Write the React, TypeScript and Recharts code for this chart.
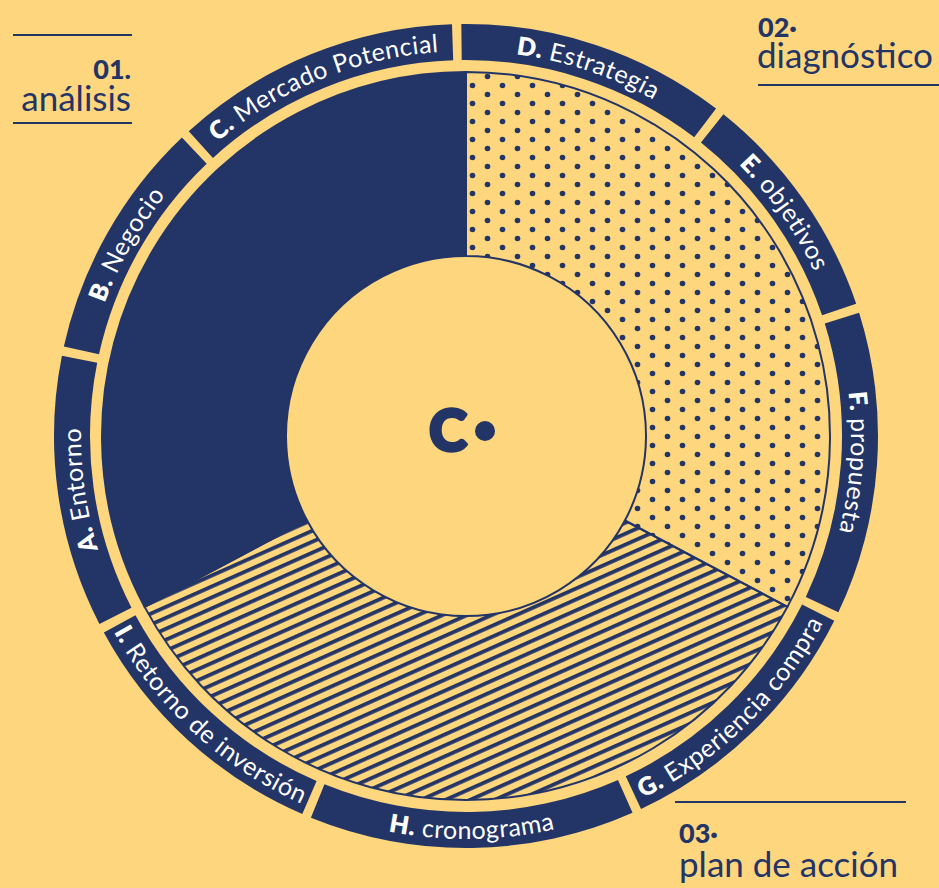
import React from 'react';
import { PieChart, Pie, Cell, Label } from 'recharts';

// colores de la lámina
const NAVY = '#233466';
const BG = '#FED67D';

// anillo exterior: letras, nombres y ángulo que ocupa cada tramo (en sentido horario desde arriba)
const ringKeys = ['D', 'E', 'F', 'G', 'H', 'I', 'A', 'B', 'C'];
const ringNames = [
  'Estrategia',
  'objetivos',
  'propuesta',
  'Experiencia compra',
  'cronograma',
  'Retorno de inversión',
  'Entorno',
  'Negocio',
  'Mercado Potencial',
];
const ringSpans = [39.3, 33.7, 44.2, 39.5, 47.5, 39.4, 39.7, 35, 41.7];

// anillo interior: las tres fases
const phaseNames = ['diagnóstico', 'plan de acción', 'análisis'];
const phaseSpans = [118, 124, 118];
const phaseFills = ['url(#dots)', 'url(#stripes)', NAVY];

const ringData = ringKeys.map((k, i) => ({ key: k, name: ringNames[i], value: ringSpans[i] }));
const phaseData = phaseNames.map((n, i) => ({ name: n, value: phaseSpans[i] }));

const CX = 461;
const CY = 431;
const PAD = 1.3;
const RAD = Math.PI / 180;
const FONT = 'Lato, "Open Sans", sans-serif';

const renderRingLabel = (props: any) => {
  const { cx, cy, midAngle, index } = props;
  const m = ((midAngle % 360) + 360) % 360;
  // los rótulos de abajo se leen en sentido antihorario
  const ccw = m > 200 && m < 340;
  const r = ccw ? 403 : 385;
  const a1 = ccw ? m - 85 : m + 85;
  const a2 = ccw ? m + 85 : m - 85;
  const x1 = cx + r * Math.cos(a1 * RAD);
  const y1 = cy - r * Math.sin(a1 * RAD);
  const x2 = cx + r * Math.cos(a2 * RAD);
  const y2 = cy - r * Math.sin(a2 * RAD);
  const id = `ring-arc-${index}`;
  return (
    <g key={id}>
      <defs>
        <path id={id} d={`M ${x1} ${y1} A ${r} ${r} 0 0 ${ccw ? 0 : 1} ${x2} ${y2}`} fill="none" />
      </defs>
      <text fill="#ffffff" fontSize={25} fontFamily={FONT} letterSpacing={0.5}>
        <textPath href={`#${id}`} startOffset="50%" textAnchor="middle">
          <tspan fontWeight={800}>{ringKeys[index]}.</tspan>
          <tspan fontWeight={400}> {ringNames[index]}</tspan>
        </textPath>
      </text>
    </g>
  );
};

const CenterLogo = ({ viewBox }: any) => {
  const cx = viewBox?.cx ?? CX;
  const cy = viewBox?.cy ?? CY;
  return (
    <g>
      <text
        x={cx - 13}
        y={cy + 20}
        textAnchor="middle"
        fontSize={57}
        fontWeight={900}
        fontFamily={FONT}
        fill={NAVY}
        stroke={NAVY}
        strokeWidth={3.5}
        strokeLinejoin="round"
      >
        C
      </text>
      <circle cx={cx + 24} cy={cy} r={10} fill={NAVY} />
    </g>
  );
};

const lineStyle = (left: number, top: number, width: number): React.CSSProperties => ({
  position: 'absolute',
  left,
  top,
  width,
  height: 2,
  background: NAVY,
});

const numStyle: React.CSSProperties = {
  position: 'absolute',
  color: NAVY,
  fontFamily: FONT,
  fontWeight: 900,
  fontSize: 27,
  lineHeight: 1,
};

const wordStyle: React.CSSProperties = {
  position: 'absolute',
  color: NAVY,
  fontFamily: FONT,
  fontWeight: 400,
  fontSize: 35,
  lineHeight: 1,
  whiteSpace: 'nowrap',
};

export default function App() {
  return (
    <div
      style={{
        position: 'absolute',
        left: 0,
        top: 0,
        width: 939,
        height: 888,
        background: BG,
        overflow: 'hidden',
      }}
    >
      <PieChart width={939} height={888} style={{ position: 'absolute', left: 0, top: 0 }}>
        <defs>
          <pattern id="dots" width={30} height={18} patternUnits="userSpaceOnUse">
            <circle cx={7.5} cy={4.5} r={2.8} fill={NAVY} />
            <circle cx={22.5} cy={13.5} r={2.8} fill={NAVY} />
          </pattern>
          <pattern
            id="stripes"
            width={10}
            height={10}
            patternUnits="userSpaceOnUse"
            patternTransform="rotate(-24)"
          >
            <rect x={0} y={0} width={10} height={3.8} fill={NAVY} />
          </pattern>
        </defs>
        <Pie
          data={phaseData}
          dataKey="value"
          cx={CX}
          cy={CY}
          innerRadius={180}
          outerRadius={364}
          startAngle={90}
          endAngle={-270}
          stroke={NAVY}
          strokeWidth={2}
          isAnimationActive={false}
        >
          {phaseData.map((d, i) => (
            <Cell key={d.name} fill={phaseFills[i]} />
          ))}
          <Label position="center" content={<CenterLogo />} />
        </Pie>
        <Pie
          data={ringData}
          dataKey="value"
          cx={CX}
          cy={CY}
          innerRadius={376}
          outerRadius={412}
          startAngle={90 + PAD / 2}
          endAngle={-270 + PAD / 2}
          paddingAngle={PAD}
          fill={NAVY}
          stroke="none"
          label={renderRingLabel}
          labelLine={false}
          isAnimationActive={false}
        />
      </PieChart>

      <div style={lineStyle(13, 34, 119)} />
      <div style={{ ...numStyle, right: 939 - 131, top: 55 }}>01.</div>
      <div style={{ ...wordStyle, right: 939 - 131, top: 80 }}>análisis</div>
      <div style={lineStyle(13, 122, 119)} />

      <div style={{ ...numStyle, left: 758, top: 13 }}>02·</div>
      <div style={{ ...wordStyle, left: 757, top: 37 }}>diagnóstico</div>
      <div style={lineStyle(758, 84, 181)} />

      <div style={lineStyle(675, 801, 231)} />
      <div style={{ ...numStyle, left: 679, top: 819 }}>03·</div>
      <div style={{ ...wordStyle, left: 679, top: 846 }}>plan de acción</div>
    </div>
  );
}
